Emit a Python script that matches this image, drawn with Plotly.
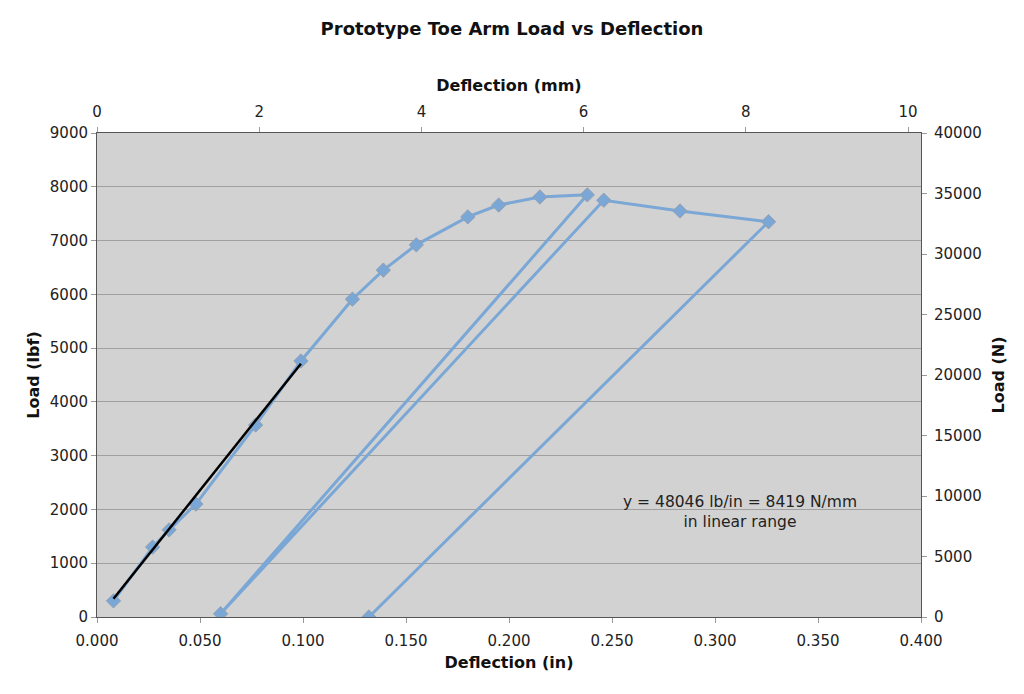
import plotly.graph_objects as go

# Load vs deflection data (deflection in inches, load in lbf)
deflection_in = [0.008, 0.027, 0.035, 0.048, 0.077, 0.099, 0.124, 0.139, 0.155, 0.180,
                 0.195, 0.215, 0.238, 0.060, 0.246, 0.283, 0.326, 0.132]
load_lbf = [300, 1300, 1620, 2100, 3570, 4760, 5910, 6450, 6920, 7440,
            7660, 7810, 7850, 60, 7750, 7550, 7350, 0]

# Linear fit (trendline) endpoints
trend_x = [0.008, 0.099]
trend_y = [340, 4710]

annotation_text = "y = 48046 lb/in = 8419 N/mm<br>in linear range"

FONT = "DejaVu Sans"
BLUE = "rgb(122,167,214)"

fig = go.Figure()
fig.add_trace(go.Scatter(
    x=deflection_in, y=load_lbf, mode="lines+markers",
    line=dict(color=BLUE, width=3),
    marker=dict(symbol="diamond", size=11, color=BLUE,
                line=dict(color="rgb(150,160,175)", width=1)),
    showlegend=False, hoverinfo="x+y"))
fig.add_trace(go.Scatter(
    x=trend_x, y=trend_y, mode="lines",
    line=dict(color="black", width=2.5),
    showlegend=False))
# helper trace to activate secondary axes (top mm, right N)
fig.add_trace(go.Scatter(
    x=[0], y=[0], xaxis="x2", yaxis="y2", mode="markers",
    marker=dict(opacity=0), showlegend=False, hoverinfo="skip"))

tickfont = dict(family=FONT, size=15, color="#222")
titlefont = dict(family=FONT, size=16, color="#111")

fig.update_layout(
    width=1024, height=694,
    margin=dict(l=97, r=103, t=133, b=77),
    paper_bgcolor="white",
    plot_bgcolor="rgb(210,210,210)",
    title=dict(text="<b>Prototype Toe Arm Load vs Deflection</b>",
               x=0.5, xanchor="center", y=1 - 29 / 694, yanchor="middle",
               font=dict(family=FONT, size=18, color="#111")),
    xaxis=dict(range=[0, 0.4], dtick=0.05, tickformat=".3f",
               showgrid=False, zeroline=False,
               showline=True, linecolor="#555", linewidth=1, mirror=True,
               ticks="outside", ticklen=5, tickcolor="#999",
               ticklabelstandoff=5,
               tickfont=tickfont,
               title=dict(text="<b>Deflection (in)</b>", font=titlefont, standoff=7)),
    yaxis=dict(range=[0, 9000], dtick=1000, tickformat="d",
               showgrid=True, gridcolor="rgb(160,160,160)", gridwidth=1,
               zeroline=False,
               showline=True, linecolor="#555", linewidth=1, mirror=True,
               ticks="outside", ticklen=5, tickcolor="#999",
               tickfont=tickfont,
               title=dict(text="<b>Load (lbf)</b>", font=titlefont, standoff=6)),
    xaxis2=dict(range=[0, 10.16], dtick=2, overlaying="x", side="top",
                showgrid=False, zeroline=False,
                ticks="outside", ticklen=5, tickcolor="#999",
                ticklabelstandoff=4,
                tickfont=tickfont,
                title=dict(text="<b>Deflection (mm)</b>", font=titlefont, standoff=7)),
    yaxis2=dict(range=[0, 40000], dtick=5000, tickformat="d", overlaying="y", side="right",
                showgrid=False, zeroline=False,
                ticks="outside", ticklen=5, tickcolor="#999",
                ticklabelstandoff=4,
                tickfont=tickfont,
                title=dict(text="<b>Load (N)</b>", font=titlefont, standoff=12)),
    annotations=[dict(x=0.312, y=1950, xref="x", yref="y", text=annotation_text,
                      showarrow=False, font=dict(family=FONT, size=15.5, color="#222"),
                      align="center")],
)

fig.write_html("out.html")
